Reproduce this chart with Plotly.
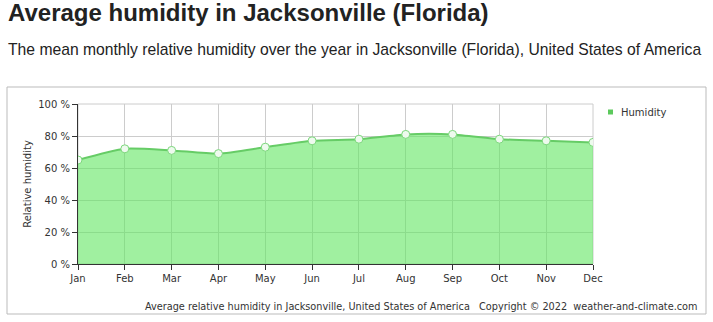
import plotly.graph_objects as go

months = ["Jan", "Feb", "Mar", "Apr", "May", "Jun", "Jul", "Aug", "Sep", "Oct", "Nov", "Dec"]
humidity = [65, 72, 71, 69, 73, 77, 78, 81, 81, 78, 77, 76]
y_ticks = [0, 20, 40, 60, 80, 100]
y_ticktext = ["0 %", "20 %", "40 %", "60 %", "80 %", "100 %"]
series_name = "Humidity"

W, H = 713, 322
L, R, T, B = 78, 593, 104, 264  # plot area in pixels

def px(x):
    return (x - L) / (R - L)

def py(y):
    return (B - y) / (B - T)

fig = go.Figure()
fig.add_trace(go.Scatter(
    x=months, y=humidity, mode="lines+markers", name=series_name,
    line=dict(color="#66cc66", width=2, shape="spline", smoothing=0.6),
    fill="tozeroy", fillcolor="rgba(97,230,97,0.6)",
    marker=dict(size=8, color="#eefaee", line=dict(color="#7cd87c", width=1)),
    showlegend=False, hoverinfo="x+y",
))

tick_font = dict(family="DejaVu Sans", size=10, color="#333333")
fig.update_xaxes(
    range=[0, 11], showgrid=True, gridcolor="#cccccc", gridwidth=1,
    showline=True, linecolor="#333333", linewidth=1,
    ticks="outside", ticklen=5, tickcolor="#333333", tickfont=tick_font,
    zeroline=False, fixedrange=True,
)
fig.update_yaxes(
    range=[0, 100], tickvals=y_ticks, ticktext=y_ticktext,
    showgrid=True, gridcolor="#cccccc", gridwidth=1,
    showline=True, linecolor="#333333", linewidth=1,
    ticks="outside", ticklen=5, tickcolor="#333333", tickfont=tick_font,
    zeroline=False, fixedrange=True,
    title=dict(text="Relative humidity", font=dict(family="DejaVu Sans", size=10, color="#333333"), standoff=4),
)

fig.add_shape(type="rect", xref="paper", yref="paper",
              x0=px(7), x1=px(706), y0=py(314), y1=py(87),
              line=dict(color="#bbbbbb", width=1), fillcolor="rgba(0,0,0,0)", layer="below")
fig.add_shape(type="rect", xref="paper", yref="paper", x0=0, x1=1, y0=0, y1=1,
              line=dict(color="#cccccc", width=1), layer="below")

# legend (drawn manually to match spacing)
fig.add_shape(type="rect", xref="paper", yref="paper",
              x0=px(608), x1=px(613), y0=py(114.5), y1=py(109.5),
              line=dict(width=0), fillcolor="#5cc95c")
fig.add_annotation(text=series_name, xref="paper", yref="paper", x=px(619), y=py(112),
                   xanchor="left", yanchor="middle", showarrow=False,
                   font=dict(family="DejaVu Sans", size=10, color="#333333"))

fig.add_annotation(text="<b>Average humidity in Jacksonville (Florida)</b>",
                   xref="paper", yref="paper", x=px(6), y=py(13),
                   xanchor="left", yanchor="middle", showarrow=False,
                   font=dict(family="Liberation Sans", size=24, color="#222222"))
fig.add_annotation(text="The mean monthly relative humidity over the year in Jacksonville (Florida), United States of America",
                   xref="paper", yref="paper", x=px(6), y=py(49),
                   xanchor="left", yanchor="middle", showarrow=False,
                   font=dict(family="Liberation Sans", size=15.7, color="#222222"))
fig.add_annotation(text="Average relative humidity in Jacksonville, United States of America&nbsp;&nbsp;&nbsp;Copyright © 2022&nbsp;&nbsp;weather-and-climate.com",
                   xref="paper", yref="paper", x=px(700), y=py(306),
                   xanchor="right", yanchor="middle", showarrow=False,
                   font=dict(family="DejaVu Sans Condensed, DejaVu Sans", size=10.8, color="#333333"))

fig.update_layout(
    width=W, height=H,
    margin=dict(l=L, r=W - R, t=T, b=H - B, pad=0),
    paper_bgcolor="white", plot_bgcolor="white",
    showlegend=False,
)

fig.write_html("out.html")
